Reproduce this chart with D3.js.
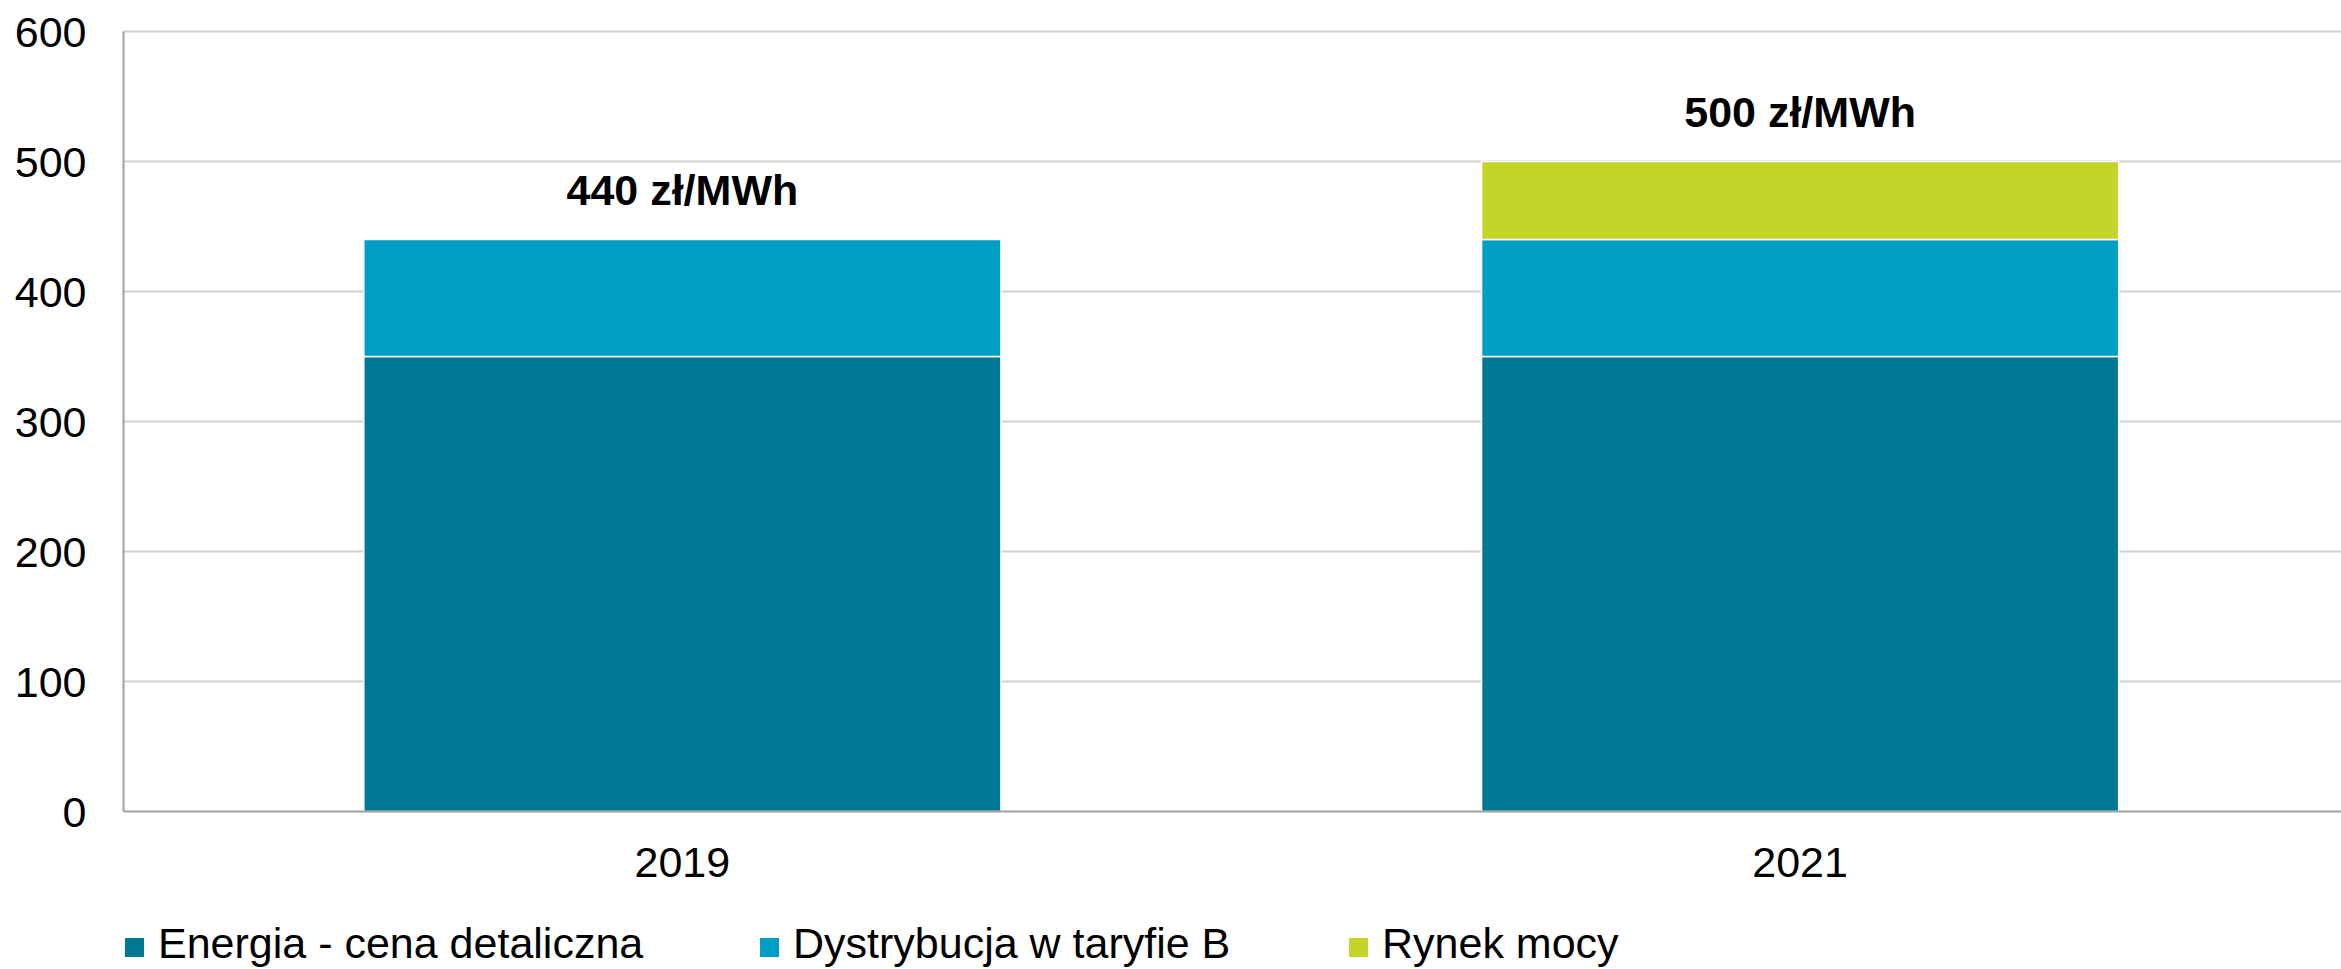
<!DOCTYPE html>
<html>
<head>
<meta charset="utf-8">
<script src="https://cdn.jsdelivr.net/npm/d3@7"></script>
<style>
  body { margin: 0; background: #fff; }
  svg { display: block; font-family: "Liberation Sans", Arial, sans-serif; }
</style>
</head>
<body>
<div id="chart"></div>
<script>
// data
var years = ["2019", "2021"];
var seriesNames = ["Energia - cena detaliczna", "Dystrybucja w taryfie B", "Rynek mocy"];
var energia = [350, 350];
var dystrybucja = [90, 90];
var rynekMocy = [0, 60];
var totalLabels = ["440 zł/MWh", "500 zł/MWh"];
var yTicks = [0, 100, 200, 300, 400, 500, 600];

var colors = ["#007793", "#009ec4", "#c3d52a"];

var svgWidth = 2341;
var svgHeight = 969;

var margin = { top: 31.5, right: -18, bottom: 157.5, left: 123.5 };
var width = svgWidth - margin.left - margin.right;
var height = svgHeight - margin.top - margin.bottom;

var svg = d3.select("#chart")
  .append("svg")
  .attr("width", svgWidth)
  .attr("height", svgHeight);

var chartGroup = svg.append("g")
  .attr("transform", `translate(${margin.left}, ${margin.top})`);

// build rows for the stack
var rows = years.map(function(y, i) {
  return { year: y, e: energia[i], d: dystrybucja[i], r: rynekMocy[i] };
});
var stacked = d3.stack().keys(["e", "d", "r"])(rows);

// scales
var xScale = d3.scaleBand()
  .domain(years)
  .range([0, width])
  .paddingInner(0.43)
  .paddingOuter(0.215);

var yScale = d3.scaleLinear()
  .domain([0, 600])
  .range([height, 0]);

// gridlines
chartGroup.append("g")
  .selectAll("line")
  .data(yTicks.filter(d => d > 0))
  .enter()
  .append("line")
  .attr("x1", 0)
  .attr("x2", width)
  .attr("y1", d => yScale(d))
  .attr("y2", d => yScale(d))
  .attr("stroke", "#cfcfcf")
  .attr("stroke-width", 2);

// bars
chartGroup.selectAll(".series")
  .data(stacked)
  .enter()
  .append("g")
  .attr("fill", (d, i) => colors[i])
  .selectAll("rect")
  .data(d => d.filter(p => p[1] - p[0] > 0))
  .enter()
  .append("rect")
  .attr("x", d => xScale(d.data.year))
  .attr("width", xScale.bandwidth())
  .attr("y", d => yScale(d[1]))
  .attr("height", d => yScale(d[0]) - yScale(d[1]))
  .attr("stroke", "#fff")
  .attr("stroke-width", 1.5);

// axes lines
chartGroup.append("line")
  .attr("x1", 0).attr("x2", 0)
  .attr("y1", 0).attr("y2", height)
  .attr("stroke", "#a0a0a0")
  .attr("stroke-width", 2);

chartGroup.append("line")
  .attr("x1", 0).attr("x2", width)
  .attr("y1", height).attr("y2", height)
  .attr("stroke", "#a0a0a0")
  .attr("stroke-width", 2);

// y tick labels
chartGroup.append("g")
  .selectAll("text")
  .data(yTicks)
  .enter()
  .append("text")
  .attr("x", -37)
  .attr("y", d => yScale(d))
  .attr("dy", "0.35em")
  .attr("text-anchor", "end")
  .attr("font-size", 43)
  .attr("fill", "#000")
  .text(d => d);

// x labels
chartGroup.append("g")
  .selectAll("text")
  .data(years)
  .enter()
  .append("text")
  .attr("x", d => xScale(d) + xScale.bandwidth() / 2)
  .attr("y", height + 65)
  .attr("text-anchor", "middle")
  .attr("font-size", 43)
  .attr("fill", "#000")
  .text(d => d);

// total labels
chartGroup.append("g")
  .selectAll("text")
  .data(rows)
  .enter()
  .append("text")
  .attr("x", d => xScale(d.year) + xScale.bandwidth() / 2)
  .attr("y", d => yScale(d.e + d.d + d.r) - 35)
  .attr("text-anchor", "middle")
  .attr("font-size", 43)
  .attr("font-weight", "bold")
  .attr("fill", "#000")
  .text((d, i) => totalLabels[i]);

// legend
var legendX = [125, 760, 1349];
var legend = svg.append("g")
  .selectAll("g")
  .data(seriesNames)
  .enter()
  .append("g")
  .attr("transform", (d, i) => `translate(${legendX[i]}, 938)`);

legend.append("rect")
  .attr("width", 19)
  .attr("height", 19)
  .attr("fill", (d, i) => colors[i]);

legend.append("text")
  .attr("x", 33)
  .attr("y", 20)
  .attr("font-size", 43)
  .attr("fill", "#000")
  .text(d => d);
</script>
</body>
</html>
